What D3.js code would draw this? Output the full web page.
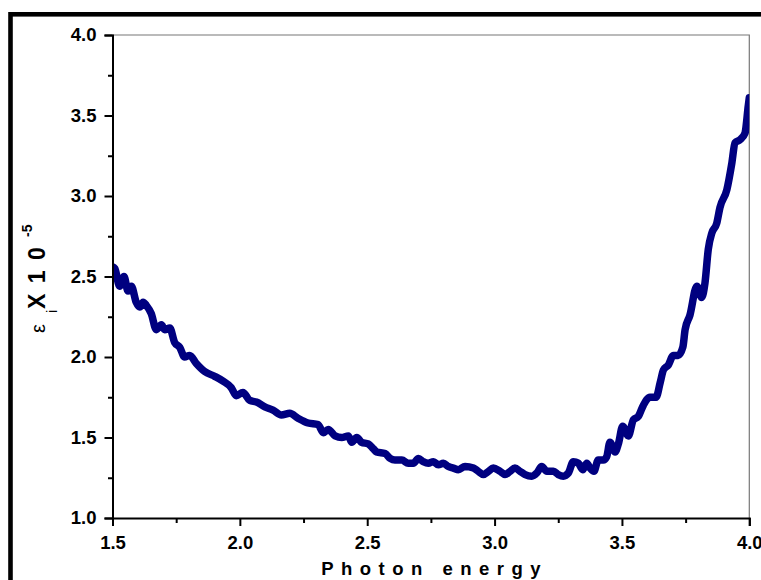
<!DOCTYPE html>
<html>
<head>
<meta charset="utf-8">
<script src="https://cdn.jsdelivr.net/npm/d3@7"></script>
<style>
  body { margin: 0; background: #fff; }
  svg { display: block; }
  text { font-family: "Liberation Sans", Arial, sans-serif; }
</style>
</head>
<body>
<div id="chart"></div>
<script>
// photon energy (x) and epsilon_i x 10^-5 (y)
var energy = [
  1.500, 1.509, 1.528, 1.545, 1.561, 1.574, 1.593, 1.607, 1.620, 1.633,
  1.652, 1.672, 1.692, 1.705, 1.725, 1.744, 1.764, 1.783, 1.803, 1.829,
  1.862, 1.901, 1.934, 1.966, 1.986, 2.012, 2.039, 2.065, 2.098, 2.130,
  2.163, 2.196, 2.228, 2.268, 2.307, 2.328, 2.347, 2.374, 2.400, 2.426,
  2.439, 2.459, 2.478, 2.504, 2.524, 2.537, 2.570, 2.590, 2.609, 2.636,
  2.661, 2.681, 2.701, 2.720, 2.740, 2.760, 2.779, 2.799, 2.818, 2.838,
  2.858, 2.884, 2.917, 2.936, 2.956, 2.976, 2.995, 3.021, 3.041, 3.061,
  3.080, 3.100, 3.120, 3.146, 3.166, 3.185, 3.205, 3.231, 3.250, 3.270,
  3.290, 3.309, 3.329, 3.346, 3.362, 3.375, 3.390, 3.407, 3.427, 3.440,
  3.453, 3.473, 3.486, 3.503, 3.525, 3.545, 3.564, 3.584, 3.610, 3.634,
  3.650, 3.663, 3.682, 3.702, 3.721, 3.739, 3.748, 3.767, 3.794, 3.813,
  3.826, 3.839, 3.853, 3.872, 3.885, 3.912, 3.931, 3.944, 3.964, 3.983,
  3.996, 4.000
];
var epsilon = [
  2.56, 2.55, 2.44, 2.50, 2.41, 2.44, 2.34, 2.31, 2.34, 2.32,
  2.27, 2.17, 2.20, 2.17, 2.18, 2.09, 2.06, 2.00, 2.01, 1.96,
  1.91, 1.88, 1.85, 1.81, 1.76, 1.78, 1.73, 1.72, 1.69, 1.67,
  1.64, 1.65, 1.62, 1.59, 1.58, 1.53, 1.55, 1.51, 1.50, 1.51,
  1.47, 1.50, 1.47, 1.46, 1.43, 1.41, 1.40, 1.37, 1.36, 1.36,
  1.34, 1.34, 1.37, 1.35, 1.34, 1.35, 1.33, 1.34, 1.32, 1.31,
  1.30, 1.32, 1.31, 1.29, 1.27, 1.29, 1.31, 1.29, 1.27, 1.29,
  1.31, 1.29, 1.27, 1.26, 1.28, 1.32, 1.29, 1.29, 1.27, 1.26,
  1.28, 1.35, 1.34, 1.30, 1.34, 1.31, 1.29, 1.36, 1.36, 1.38,
  1.47, 1.41, 1.46, 1.57, 1.51, 1.61, 1.63, 1.70, 1.75, 1.75,
  1.84, 1.92, 1.95, 2.01, 2.01, 2.06, 2.17, 2.26, 2.44, 2.37,
  2.46, 2.67, 2.77, 2.83, 2.93, 3.04, 3.20, 3.33, 3.35, 3.39,
  3.56, 3.61
];
var xTicks = [1.5, 2.0, 2.5, 3.0, 3.5, 4.0];
var yTicks = [1.0, 1.5, 2.0, 2.5, 3.0, 3.5, 4.0];
var xMinor = [1.75, 2.25, 2.75, 3.25, 3.75];
var yMinor = [1.25, 1.75, 2.25, 2.75, 3.25, 3.75];

var width = 761, height = 580;
var margin = { left: 112.5, top: 35, right: 11.7, bottom: 62 };
var x0 = margin.left, x1 = width - margin.right;
var y0 = height - margin.bottom, y1 = margin.top;

var x = d3.scaleLinear().domain([1.5, 4.0]).range([x0, x1]);
var y = d3.scaleLinear().domain([1.0, 4.0]).range([y0, y1]);

var svg = d3.select('#chart').append('svg')
  .attr('width', width)
  .attr('height', height);

// thick outer frame (runs off the right and bottom edges)
svg.append('rect')
  .attr('x', 10.5).attr('y', 14.3)
  .attr('width', 800).attr('height', 700)
  .attr('fill', 'none')
  .attr('stroke', '#000')
  .attr('stroke-width', 4.6);

// top and right frame of the plot
svg.append('path')
  .attr('d', 'M' + x0 + ',' + y1 + 'H' + x1 + 'V' + y0)
  .attr('fill', 'none')
  .attr('stroke', '#777')
  .attr('stroke-width', 1.2);

svg.append('clipPath').attr('id', 'plotclip')
  .append('rect')
  .attr('x', x0).attr('y', y1)
  .attr('width', x1 - x0).attr('height', y0 - y1);

var points = energy.map(function (e, i) { return [e, epsilon[i]]; });

var line = d3.line()
  .x(function (d) { return x(d[0]); })
  .y(function (d) { return y(d[1]); })
  .curve(d3.curveMonotoneX);

svg.append('path')
  .datum(points)
  .attr('clip-path', 'url(#plotclip)')
  .attr('d', line)
  .attr('fill', 'none')
  .attr('stroke', '#000080')
  .attr('stroke-width', 7.5)
  .attr('stroke-linejoin', 'round')
  .attr('stroke-linecap', 'round');

// axes
svg.append('g')
  .attr('transform', 'translate(0,' + y0 + ')')
  .call(d3.axisBottom(x).tickValues(xTicks).tickSize(8).tickPadding(10)
    .tickFormat(d3.format('.1f')));
svg.append('g')
  .attr('transform', 'translate(0,' + y0 + ')')
  .call(d3.axisBottom(x).tickValues(xMinor).tickSize(5).tickFormat(''))
  .select('.domain').remove();

svg.append('g')
  .attr('transform', 'translate(' + x0 + ',0)')
  .call(d3.axisLeft(y).tickValues(yTicks).tickSize(8).tickPadding(8)
    .tickFormat(d3.format('.1f')));
svg.append('g')
  .attr('transform', 'translate(' + x0 + ',0)')
  .call(d3.axisLeft(y).tickValues(yMinor).tickSize(4.5).tickFormat(''))
  .select('.domain').remove();

svg.selectAll('.domain')
  .attr('stroke', '#000')
  .attr('stroke-width', 2);
svg.selectAll('.tick line')
  .attr('stroke', '#000')
  .attr('stroke-width', 2);
svg.selectAll('.tick text')
  .attr('fill', '#000')
  .style('font-size', '18.5px')
  .style('font-weight', 'bold')
  .style('font-family', '"Liberation Sans", Arial, sans-serif');

// x axis title, letter spaced
var ls = 7.5;
svg.append('text')
  .attr('x', (x0 + x1) / 2 + ls / 2)
  .attr('y', 575)
  .attr('text-anchor', 'middle')
  .style('font-size', '18.5px')
  .style('font-weight', 'bold')
  .style('letter-spacing', ls + 'px')
  .text('Photon energy');

// y axis title: epsilon_i X 1 0 ^-5
var yt = svg.append('g').attr('transform', 'translate(45,333) rotate(-90)');
yt.append('text')
  .attr('x', 0).attr('y', 0)
  .style('font-size', '20px')
  .text('ε');
yt.append('text')
  .attr('x', 20).attr('y', 12)
  .style('font-size', '15px')
  .text('i');
yt.append('text')
  .attr('x', 24).attr('y', 0)
  .style('font-size', '23px')
  .style('font-weight', 'bold')
  .style('letter-spacing', '2px')
  .text('X 1 0');
yt.append('text')
  .attr('x', 96).attr('y', -13)
  .style('font-size', '14px')
  .style('font-weight', 'bold')
  .text('-5');
</script>
</body>
</html>
